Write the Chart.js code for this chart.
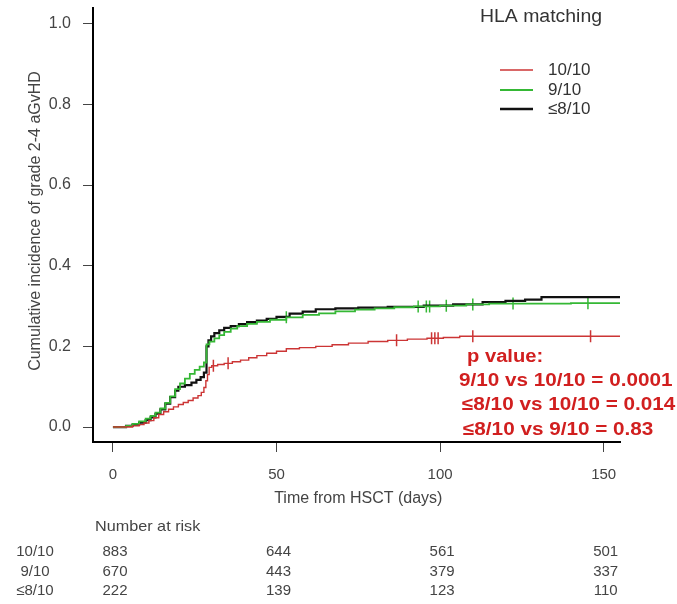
<!DOCTYPE html>
<html>
<head>
<meta charset="utf-8">
<script src="https://cdn.jsdelivr.net/npm/chart.js@4.4.1/dist/chart.umd.min.js"></script>
<style>
html,body{margin:0;padding:0;background:#fff;}
#wrap{width:677px;height:604px;}
</style>
</head>
<body>
<div id="wrap"><canvas id="c" width="677" height="604"></canvas></div>
<script>
// ---- data ----
const xTicks = [0, 50, 100, 150];
const yTicks = [0, 0.2, 0.4, 0.6, 0.8, 1.0];
const seriesNames = ['10/10', '9/10', '≤8/10'];

const redT = [0,6,8,9.5,11,12.5,14,15.5,17,18.5,20,21.5,23,24.5,26,27,27.8,28.4,28.9,29.4,30.2,32,34,36.5,39,41.5,44,47,50,53,57,62,67,72,78,84,90,96,101,106,155];
const redY = [0,0.003,0.006,0.01,0.016,0.023,0.031,0.038,0.044,0.05,0.056,0.061,0.066,0.072,0.078,0.086,0.098,0.115,0.13,0.148,0.152,0.155,0.158,0.162,0.166,0.172,0.177,0.183,0.188,0.194,0.197,0.2,0.204,0.208,0.212,0.215,0.218,0.22,0.222,0.225,0.225];

const greenT = [0,4,6,8,10,11.5,13,14.5,16,17.5,19,20.5,22,23.5,25,26.5,27.8,28.6,29.5,31,32.5,34,36,38,41,44,48,53,58,63,68,74,80,86,92,100,108,115,125,140,155];
const greenY = [0,0.003,0.008,0.014,0.021,0.028,0.036,0.046,0.06,0.076,0.094,0.108,0.12,0.132,0.142,0.15,0.16,0.205,0.212,0.22,0.228,0.236,0.244,0.25,0.256,0.261,0.266,0.272,0.278,0.282,0.287,0.291,0.294,0.297,0.299,0.301,0.304,0.306,0.306,0.307,0.307];

const blackT = [0,4,6,8,10,11.5,13,14.5,16,17.5,19,20,22,24,25.5,26.8,27.8,28.6,29.2,30,31,32.5,34,36,38.5,41,44,47,50,54,58,62,68,75,84,95,104,113,120,126,131,155];
const blackY = [0,0.003,0.006,0.011,0.017,0.024,0.033,0.044,0.058,0.074,0.09,0.1,0.104,0.11,0.117,0.124,0.135,0.2,0.215,0.225,0.233,0.24,0.246,0.25,0.255,0.26,0.264,0.268,0.273,0.281,0.286,0.292,0.294,0.296,0.298,0.301,0.304,0.31,0.313,0.316,0.322,0.322];

const redCensor = [30.7, 35.2, 86.7, 97.4, 98.4, 99.4, 110, 146];
const greenCensor = [53, 93.3, 95.8, 96.8, 101.9, 110, 122.3, 145.2];

const riskTimes = [0, 50, 100, 150];
const risk1010 = [883, 644, 561, 501];
const risk910 = [670, 443, 379, 337];
const risk810 = [222, 139, 123, 110];

const pTitle = 'p value:';
const pLines = ['9/10 vs 10/10 = 0.0001', '≤8/10 vs 10/10 = 0.014', '≤8/10 vs 9/10 = 0.83'];

// ---- styling ----
const RED = '#cc3535', GREEN = '#35b835', BLACK = '#111111';
const FONT = '"Liberation Sans", Arial, sans-serif';
const GRAY = '#444';

function pts(t, y){ return t.map((v,i)=>({x:v, y:y[i]})); }
function stepAt(t, y, x){ let v = y[0]; for(let i=0;i<t.length;i++){ if(t[i]<=x) v=y[i]; } return v; }
function censorPts(c, t, y){ return c.map(x=>({x:x, y:stepAt(t,y,x)})); }

function txt(ctx, s, x, y, font, color, align, sx){
  ctx.save();
  ctx.font = font; ctx.fillStyle = color; ctx.textAlign = align; ctx.textBaseline = 'middle';
  ctx.translate(x, y); ctx.scale(sx||1, 1);
  ctx.fillText(s, 0, 0);
  ctx.restore();
}

const bg = { id:'bg', beforeDraw(ch){ const c=ch.ctx; c.save(); c.fillStyle='#fff'; c.fillRect(0,0,ch.width,ch.height); c.restore(); } };

const deco = {
  id:'deco',
  afterDraw(ch){
    const ctx = ch.ctx, xs = ch.scales.x;
    // y title
    ctx.save();
    ctx.translate(36, 221); ctx.rotate(-Math.PI/2);
    ctx.font = '16px ' + FONT; ctx.fillStyle = GRAY; ctx.textAlign='center'; ctx.textBaseline='middle';
    ctx.fillText('Cumulative incidence of grade 2-4 aGvHD', 0, 0);
    ctx.restore();
    // x title
    txt(ctx, 'Time from HSCT (days)', (xs.getPixelForValue(0)+xs.getPixelForValue(150))/2, 499, '16px '+FONT, GRAY, 'center');
    // legend
    txt(ctx, 'HLA matching', 541, 17, '18px '+FONT, '#333', 'center', 1.08);
    const cols = [RED, GREEN, BLACK], ly = [70, 90, 109], lw=[1.6,2,2.4];
    for(let i=0;i<3;i++){
      ctx.save(); ctx.strokeStyle = cols[i]; ctx.lineWidth = lw[i];
      ctx.beginPath(); ctx.moveTo(500, ly[i]); ctx.lineTo(533, ly[i]); ctx.stroke(); ctx.restore();
      txt(ctx, seriesNames[i], 548, ly[i], '17px '+FONT, '#333', 'left');
    }
    // p values
    const PF = 'bold 18px ' + FONT, PC = '#d11f1f';
    txt(ctx, pTitle, 467, 357, PF, PC, 'left', 1.12);
    txt(ctx, pLines[0], 459, 381, PF, PC, 'left', 1.15);
    txt(ctx, pLines[1], 462, 405, PF, PC, 'left', 1.15);
    txt(ctx, pLines[2], 463, 430, PF, PC, 'left', 1.15);
    // number at risk
    txt(ctx, 'Number at risk', 95, 527, '15px '+FONT, GRAY, 'left', 1.08);
    const rows = [risk1010, risk910, risk810], ry = [552, 572, 591];
    for(let r=0;r<3;r++){
      txt(ctx, seriesNames[r], 35, ry[r], '15px '+FONT, GRAY, 'center');
      for(let k=0;k<riskTimes.length;k++){
        txt(ctx, String(rows[r][k]), xs.getPixelForValue(riskTimes[k])+2, ry[r], '15px '+FONT, GRAY, 'center');
      }
    }
  }
};

new Chart(document.getElementById('c'), {
  type: 'line',
  data: {
    datasets: [
      { label: seriesNames[0], data: pts(redT, redY), borderColor: RED, borderWidth: 1.4, stepped: 'before', pointRadius: 0, fill:false },
      { label: seriesNames[1], data: pts(greenT, greenY), borderColor: GREEN, borderWidth: 1.8, stepped: 'before', pointRadius: 0, fill:false },
      { label: seriesNames[2], data: pts(blackT, blackY), borderColor: BLACK, borderWidth: 2.2, stepped: 'before', pointRadius: 0, fill:false },
      { type:'scatter', label:'c1', data: censorPts(redCensor, redT, redY), pointStyle:'line', rotation:90, radius:6, borderColor: RED, borderWidth:1.5, showLine:false },
      { type:'scatter', label:'c2', data: censorPts(greenCensor, greenT, greenY), pointStyle:'line', rotation:90, radius:6, borderColor: GREEN, borderWidth:1.5, showLine:false }
    ]
  },
  options: {
    responsive: false,
    animation: false,
    devicePixelRatio: 1,
    layout: { padding: { top: 7, right: 57, left: 0, bottom: 0 } },
    plugins: { legend: { display:false }, title:{display:false}, tooltip:{enabled:false} },
    scales: {
      x: {
        type: 'linear', min: -6.1, max: 155,
        afterBuildTicks: s => { s.ticks = xTicks.map(v=>({value:v})); },
        afterFit: s => { s.height = 162; s.paddingLeft = 0; s.paddingRight = 0; },
        grid: { drawOnChartArea:false, drawTicks:true, tickLength:10, color:'#444', lineWidth:1 },
        border: { display:true, color:'#000', width:2 },
        ticks: { padding: 14, color: GRAY, font: { family: FONT, size: 15 }, callback: v => String(v), maxRotation:0 }
      },
      y: {
        type: 'linear', min: -0.037, max: 1.04,
        afterBuildTicks: s => { s.ticks = yTicks.map(v=>({value:v})); },
        afterFit: s => { s.width = 93; s.paddingTop = 0; s.paddingBottom = 0; },
        grid: { drawOnChartArea:false, drawTicks:true, tickLength:10, color:'#444', lineWidth:1 },
        border: { display:true, color:'#000', width:2 },
        ticks: { padding: 12, color: GRAY, font: { family: FONT, size: 16 }, callback: v => Number(v).toFixed(1) }
      }
    }
  },
  plugins: [bg, deco]
});
</script>
</body>
</html>
